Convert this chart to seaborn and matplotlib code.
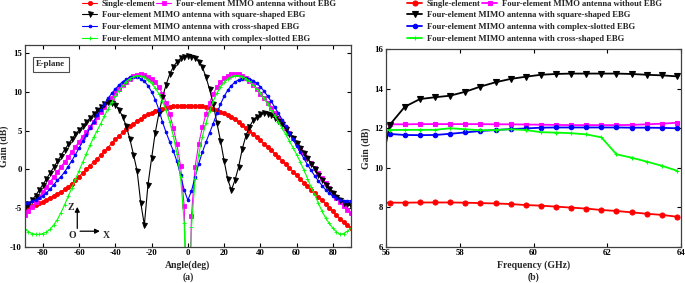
import matplotlib
matplotlib.use('Agg')
import matplotlib.pyplot as plt
import seaborn as sns
import numpy as np

# (a) E-plane pattern, angle step 2 deg
angle = np.arange(-90, 92, 2)

single = [-5.1, -4.95, -4.8, -4.6, -4.4, -4.2, -3.95, -3.7, -3.45, -3.2,
          -2.95, -2.6, -2.25, -1.85, -1.4, -0.95, -0.45, 0.0, 0.45, 0.9,
          1.35, 1.85, 2.3, 2.8, 3.35, 3.85, 4.3, 4.75, 5.15, 5.55,
          5.9, 6.25, 6.55, 6.85, 7.1, 7.3, 7.5, 7.65, 7.8, 7.9,
          8.0, 8.1, 8.15, 8.2, 8.2, 8.2, 8.2, 8.2, 8.15, 8.1,
          8.0, 7.9, 7.8, 7.65, 7.45, 7.25, 7.0, 6.75, 6.45, 6.1,
          5.75, 5.35, 4.95, 4.55, 4.15, 3.75, 3.3, 2.9, 2.45, 2.0,
          1.55, 1.1, 0.65, 0.2, -0.3, -0.8, -1.3, -1.75, -2.2, -2.65,
          -3.1, -3.55, -4.0, -4.45, -4.95, -5.45, -5.95, -6.4, -6.85, -7.25,
          -7.6]
no_ebg = [-5.9, -5.4, -4.85, -4.25, -3.6, -2.95, -2.3, -1.65, -1.0, -0.35,
          0.3, 0.95, 1.6, 2.25, 2.9, 3.55, 4.2, 4.85, 5.5, 6.15,
          6.8, 7.45, 8.05, 8.65, 9.25, 9.8, 10.35, 10.85, 11.3, 11.7,
          12.0, 12.2, 12.25, 12.15, 11.95, 11.65, 11.2, 10.6, 9.75, 8.6,
          7.1, 5.3, 3.2, 0.4, -4.8, -25.0, -6.0, 0.3, 3.3, 5.4,
          7.1, 8.6, 9.75, 10.6, 11.25, 11.75, 12.05, 12.25, 12.3, 12.25,
          12.05, 11.75, 11.35, 10.85, 10.3, 9.75, 9.15, 8.55, 7.95, 7.3,
          6.65, 6.0, 5.35, 4.7, 4.05, 3.4, 2.75, 2.1, 1.45, 0.8,
          0.15, -0.5, -1.15, -1.8, -2.45, -3.1, -3.7, -4.25, -4.75, -5.2,
          -5.6]
square = [-4.85, -4.5, -4.0, -3.4, -2.7, -2.0, -1.25, -0.5, 0.25, 1.0,
          1.75, 2.5, 3.2, 3.9, 4.5, 5.05, 5.55, 6.1, 6.6, 7.1,
          7.6, 8.0, 8.4, 8.65, 8.6, 8.3, 7.7, 6.8, 5.6, 3.9,
          1.9, -0.2, -4.3, -7.2, -2.0, 1.4, 4.7, 7.2, 9.3, 10.9,
          12.3, 13.2, 13.9, 14.3, 14.55, 14.65, 14.55, 14.3, 13.9, 13.2,
          11.9, 10.3, 8.4, 6.0, 3.7, 1.1, -1.3, -2.7, -1.4, 0.3,
          2.6, 4.3, 5.5, 6.3, 6.8, 7.1, 7.2, 7.15, 6.95, 6.6,
          6.25, 5.8, 5.2, 4.6, 4.0, 3.4, 2.8, 2.1, 1.4, 0.7,
          0.0, -0.7, -1.35, -2.0, -2.6, -3.1, -3.55, -3.95, -4.3, -4.55,
          -4.75]
cross = [-4.4, -4.3, -4.15, -3.95, -3.7, -3.4, -3.05, -2.55, -2.0, -1.45,
         -0.95, -0.35, 0.35, 1.1, 1.9, 2.75, 3.6, 4.45, 5.3, 6.15,
         6.95, 7.7, 8.45, 9.15, 9.8, 10.35, 10.85, 11.3, 11.6, 11.85,
         11.95, 11.9, 11.7, 11.35, 10.8, 10.0, 9.0, 7.7, 6.1, 4.75,
         3.55, 2.35, 1.0, -0.8, -2.7, -4.0, -2.8, -1.0, 0.7, 2.2,
         3.5, 4.7, 5.9, 7.2, 8.4, 9.4, 10.2, 10.8, 11.25, 11.55,
         11.7, 11.75, 11.65, 11.45, 11.1, 10.65, 10.1, 9.45, 8.75, 8.0,
         7.2, 6.4, 5.55, 4.7, 3.85, 3.0, 2.2, 1.4, 0.6, -0.15,
         -0.85, -1.5, -2.1, -2.65, -3.1, -3.45, -3.75, -3.95, -4.05, -4.1,
         -4.05]
complex_slot = [-7.7, -8.05, -8.3, -8.4, -8.4, -8.3, -8.1, -7.75, -7.2, -6.5,
                -5.6, -4.6, -3.5, -2.4, -1.3, -0.2, 0.9, 2.0, 3.1, 4.1,
                5.0, 5.9, 6.9, 7.8, 8.65, 9.45, 10.15, 10.8, 11.3, 11.7,
                11.95, 12.1, 12.05, 11.85, 11.55, 11.1, 10.5, 9.75, 8.8, 7.6,
                6.1, 4.3, 2.0, -1.0, -7.0, -25.0, -7.5, -1.2, 1.9, 4.2,
                6.0, 7.5, 8.8, 9.8, 10.6, 11.2, 11.65, 11.95, 12.1, 12.1,
                11.95, 11.7, 11.35, 10.9, 10.35, 9.8, 9.15, 8.45, 7.7, 6.9,
                6.1, 5.3, 4.5, 3.65, 2.8, 1.9, 0.95, -0.1, -1.2, -2.3,
                -3.3, -4.4, -5.4, -6.3, -7.0, -7.6, -8.1, -8.4, -8.3, -8.0,
                -7.6]

# (b) gain vs frequency
freq = [55.69, 56.10, 56.51, 56.92, 57.33, 57.74, 58.15, 58.56, 58.97, 59.38, 59.79,
        60.20, 60.61, 61.02, 61.43, 61.84, 62.25, 62.66, 63.07, 63.48, 63.89]
single_f = [8.23, 8.23, 8.23, 8.24, 8.24, 8.24, 8.23, 8.21, 8.19, 8.16, 8.11,
            8.08, 8.03, 7.98, 7.93, 7.86, 7.81, 7.74, 7.67, 7.61, 7.52]
no_ebg_f = [12.2, 12.2, 12.2, 12.21, 12.21, 12.21, 12.21, 12.21, 12.2, 12.2, 12.19,
            12.18, 12.17, 12.16, 12.16, 12.16, 12.16, 12.17, 12.2, 12.23, 12.28]
square_f = [8.4, 12.17, 13.09, 13.48, 13.57, 13.65, 13.85, 14.11, 14.33, 14.5, 14.61,
            14.71, 14.75, 14.77, 14.77, 14.77, 14.77, 14.75, 14.71, 14.68, 14.63]
complex_f = [11.75, 11.71, 11.66, 11.65, 11.66, 11.72, 11.79, 11.86, 11.91, 11.96, 11.99,
             12.03, 12.04, 12.04, 12.04, 12.04, 12.04, 12.03, 12.03, 12.02, 12.0]
cross_f = [11.9, 11.91, 11.92, 11.92, 11.92, 12.0, 11.95, 11.9, 11.91, 11.95, 11.91,
           11.8, 11.78, 11.75, 11.69, 11.54, 10.68, 10.51, 10.31, 10.1, 9.85]

lab_single = 'Single-element'
lab_no = 'Four-element MIMO antenna without EBG'
lab_sq = 'Four-element MIMO antenna with square-shaped EBG'
lab_cr = 'Four-element MIMO antenna with cross-shaped EBG'
lab_cs = 'Four-element MIMO antenna with complex-slotted EBG'

sns.set_style('ticks')
plt.rcParams['font.family'] = ['Liberation Serif', 'DejaVu Serif']
plt.rcParams['font.weight'] = 'bold'
plt.rcParams['axes.labelweight'] = 'bold'
plt.rcParams['axes.unicode_minus'] = False

W, H = 685, 283
fig = plt.figure(figsize=(W / 100, H / 100), dpi=100)
ax1 = fig.add_axes([24.7 / W, 1 - 246.7 / H, 326.3 / W, 201.4 / H])
ax2 = fig.add_axes([386 / W, 1 - 246.7 / H, 295 / W, 197.4 / H])

# 왼쪽 그래프
style_a = [
    (single, 'red', 'o', 3.0, lab_single),
    (no_ebg, 'magenta', 's', 2.6, lab_no),
    (square, 'black', 'v', 3.6, lab_sq),
    (cross, 'blue', 'o', 2.0, lab_cr),
    (complex_slot, 'lime', '+', 2.6, lab_cs),
]
for vals, c, m, ms, lab in style_a:
    sns.lineplot(x=angle, y=vals, ax=ax1, color=c, marker=m, markersize=ms,
                 markeredgecolor=c, markerfacecolor=c, markeredgewidth=0.6,
                 lw=0.8, label=lab)

# 오른쪽 그래프
style_b = [
    (single_f, 'red', 'o', 3.6, lab_single),
    (no_ebg_f, 'magenta', 's', 3.2, lab_no),
    (square_f, 'black', 'v', 4.0, lab_sq),
    (complex_f, 'blue', 'o', 3.2, lab_cs),
    (cross_f, 'lime', '+', 3.0, lab_cr),
]
for vals, c, m, ms, lab in style_b:
    sns.lineplot(x=freq, y=vals, ax=ax2, color=c, marker=m, markersize=ms,
                 markeredgecolor=c, markerfacecolor=c, markeredgewidth=0.8,
                 lw=1.3, label=lab)

for ax in (ax1, ax2):
    ax.get_legend().remove()
    ax.tick_params(direction='in', top=True, right=True, length=3, width=0.8,
                   labelsize=6.3, pad=2, colors='black')
    for sp in ax.spines.values():
        sp.set_linewidth(0.9)
        sp.set_color('0.25')

ax1.set_xlim(-90, 90)
ax1.set_ylim(-10, 16)
ax1.set_xticks(range(-80, 81, 20))
ax1.set_yticks([-10, -5, 0, 5, 10, 15])
ax1.set_xlabel('Angle(deg)', fontsize=7, labelpad=2)
ax1.set_ylabel('Gain (dB)', fontsize=7, labelpad=1)

ax2.set_xlim(56, 64)
ax2.set_ylim(6, 16)
ax2.set_xticks([56, 58, 60, 62, 64])
ax2.set_yticks([6, 8, 10, 12, 14, 16])
ax2.set_xlabel('Frequency (GHz)', fontsize=7, labelpad=2)
ax2.set_ylabel('Gain (dB)', fontsize=7, labelpad=2)

fig.text(188 / W, 1 - 277 / H, '(a)', ha='center', va='center', fontsize=7, weight='bold')
fig.text(533.5 / W, 1 - 277 / H, '(b)', ha='center', va='center', fontsize=7, weight='bold')

ax1.text(0.08, 0.905, 'E-plane', transform=ax1.transAxes, ha='center', va='center',
         fontsize=6.3, weight='bold',
         bbox=dict(boxstyle='square,pad=0.4', fc='white', ec='0.3', lw=0.8))

# 좌표축 표시
arr = dict(arrowstyle='-|>', color='black', lw=0.9, mutation_scale=7)
ax1.annotate('', xy=(-61.0, -4.5), xytext=(-61.0, -8.0), arrowprops=arr)
ax1.annotate('', xy=(-47.0, -8.0), xytext=(-61.0, -8.0), arrowprops=arr)
ax1.text(-64.3, -4.9, 'Z', fontsize=7, weight='bold', ha='center', va='center', zorder=10)
ax1.text(-64.0, -8.6, 'O', fontsize=7, weight='bold', ha='center', va='center', zorder=10)
ax1.text(-44.8, -8.6, 'X', fontsize=7, weight='bold', ha='center', va='center', zorder=10)

# 범례 (한 항목씩 배치)
h1, l1 = ax1.get_legend_handles_labels()
h2, l2 = ax2.get_legend_handles_labels()
entries = [
    (h1[0], l1[0], 82, 4), (h1[1], l1[1], 156, 4), (h1[2], l1[2], 82, 15),
    (h1[3], l1[3], 82, 27), (h1[4], l1[4], 82, 39),
    (h2[0], l2[0], 407, 4), (h2[1], l2[1], 482, 4), (h2[2], l2[2], 407, 15),
    (h2[3], l2[3], 407, 27), (h2[4], l2[4], 407, 39),
]
for h, lab, x, y in entries:
    fig.legend([h], [lab], loc='center left', bbox_to_anchor=(x / W, 1 - y / H),
               frameon=False, borderpad=0, borderaxespad=0, handlelength=1.75,
               handletextpad=0.55, prop={'weight': 'bold', 'size': 6.2})

fig.savefig('out.png', dpi=100)
